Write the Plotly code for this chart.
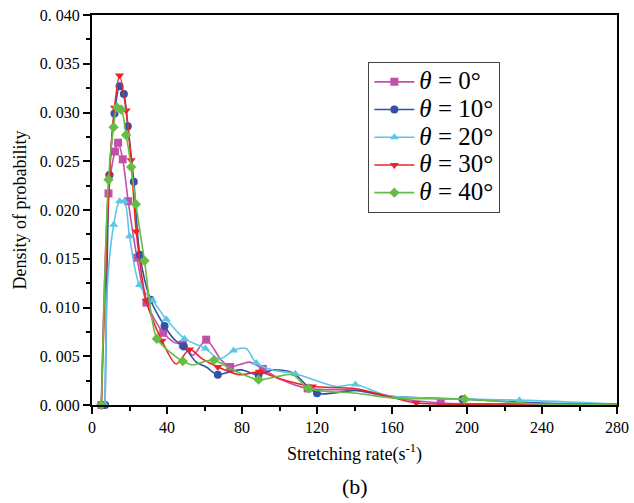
import plotly.graph_objects as go

# Probability density of the stretching rate for five inclination angles.
# Each curve is a smoothed line through all samples; markers sit on a subset.

ANGLES = ["0", "10", "20", "30", "40"]

X_0 = [5, 8.8, 12.2, 13.9, 16.4, 19.3, 24.0, 29.0, 38.0, 44.0, 48.4, 53.8, 60.9, 68.9,
       73.7, 84.0, 91.1, 100, 115, 141, 162, 186, 230, 280]
Y_0 = [0, 0.0217, 0.0260, 0.0269, 0.0252, 0.0209, 0.0151, 0.0105, 0.0074, 0.0064, 0.0062,
       0.0051, 0.0067, 0.0046, 0.0039, 0.0044, 0.0037, 0.0027, 0.0017, 0.0015, 0.0007,
       0.0002, 0.0001, 0.0001]
MARK_0 = [0, 1, 2, 3, 4, 5, 6, 7, 8, 10, 12, 14, 16, 18, 21]

X_10 = [7, 9.3, 12, 14.7, 17, 19.1, 22.3, 25.5, 31.2, 38.7, 44, 49, 55.6, 60.9, 67.1, 73.3,
        79.6, 88.8, 96.4, 107, 120, 141, 158.7, 197.6, 240, 280]
Y_10 = [0, 0.0236, 0.0299, 0.0327, 0.0319, 0.0286, 0.0229, 0.0154, 0.0108, 0.0081, 0.0067,
        0.0060, 0.0044, 0.0039, 0.0031, 0.0034, 0.0036, 0.0031, 0.0036, 0.0033, 0.0012,
        0.0015, 0.0009, 0.0006, 0.0002, 0.0001]
MARK_10 = [0, 1, 2, 3, 4, 5, 6, 7, 8, 9, 11, 14, 17, 20, 23]

X_20 = [7, 8.4, 11.6, 14.7, 17.3, 20, 25.3, 32.4, 39.6, 49.3, 60.5, 68, 75.5, 82.2, 87.6,
        96.4, 108.5, 130, 140.5, 157, 180, 228, 280]
Y_20 = [0, 0.0128, 0.0185, 0.0209, 0.0209, 0.0173, 0.0123, 0.0107, 0.0088, 0.0068, 0.0058,
        0.0047, 0.0056, 0.0058, 0.0043, 0.0036, 0.0032, 0.0019, 0.0021, 0.0010, 0.0007,
        0.0005, 0.0001]
MARK_20 = [0, 2, 3, 4, 5, 6, 7, 8, 9, 10, 12, 14, 16, 18, 21]

X_30 = [5, 9.3, 12, 14.7, 18.2, 20.9, 23.6, 29, 37.3, 44.9, 52, 59, 67.1, 78.7, 89.3, 100,
        117.5, 140, 160, 173, 220, 280]
Y_30 = [0, 0.0235, 0.0305, 0.0338, 0.0302, 0.0251, 0.0178, 0.0107, 0.0066, 0.0042, 0.0057,
        0.0047, 0.0039, 0.0031, 0.0034, 0.0027, 0.0019, 0.0017, 0.0008, 0.0002, 0.0001,
        0.0001]
MARK_30 = [0, 1, 2, 3, 4, 5, 6, 7, 8, 10, 12, 14, 16, 19]

X_40 = [5, 8.8, 11.5, 13.4, 15.6, 18.2, 20.9, 23.4, 28, 34.6, 43.1, 48.4, 53.8, 59.1, 65,
        75.1, 88.8, 98.2, 107, 115.5, 141, 162, 198.7, 240, 280]
Y_40 = [0, 0.0231, 0.0285, 0.0305, 0.0303, 0.0277, 0.0244, 0.0206, 0.0148, 0.0068, 0.0052,
        0.0045, 0.0041, 0.0044, 0.0046, 0.0036, 0.0026, 0.0029, 0.0031, 0.0017, 0.0012,
        0.0007, 0.0006, 0.0001, 0.0001]
MARK_40 = [0, 1, 2, 3, 4, 5, 6, 7, 8, 9, 11, 14, 16, 19, 22]

X_TICKS = [0, 40, 80, 120, 160, 200, 240, 280]
Y_TICKS = [0, 0.005, 0.010, 0.015, 0.020, 0.025, 0.030, 0.035, 0.040]
Y_TICK_TEXT = ["0.\u00a0000", "0.\u00a0005", "0.\u00a0010", "0.\u00a0015", "0.\u00a0020",
               "0.\u00a0025", "0.\u00a0030", "0.\u00a0035", "0.\u00a0040"]

series = [
    (X_0, Y_0, MARK_0, "#C44FAB", "square"),
    (X_10, Y_10, MARK_10, "#3352A6", "circle"),
    (X_20, Y_20, MARK_20, "#5CC7E3", "triangle-up"),
    (X_30, Y_30, MARK_30, "#EE2424", "triangle-down"),
    (X_40, Y_40, MARK_40, "#66BD43", "diamond"),
]

SERIF = "Liberation Serif"

fig = go.Figure()
for angle, (xs, ys, marks, color, symbol) in zip(ANGLES, series):
    name = f'<span style="font-size:25px"><i>θ</i> = {angle}°</span>'
    fig.add_trace(go.Scatter(
        x=xs, y=ys, mode="lines", line=dict(color=color, width=1.6, shape="spline", smoothing=0.8),
        showlegend=False, hoverinfo="skip"))
    fig.add_trace(go.Scatter(
        x=[xs[i] for i in marks], y=[ys[i] for i in marks], mode="markers",
        marker=dict(color=color, symbol=symbol, size=8), cliponaxis=False,
        showlegend=False, name=name))
    # legend entry showing both line and symbol
    fig.add_trace(go.Scatter(
        x=[None], y=[None], mode="lines+markers", name=name,
        line=dict(color=color, width=1.6),
        marker=dict(color=color, symbol=symbol, size=8)))

axis_common = dict(
    showline=True, linecolor="black", linewidth=2, mirror=True,
    ticks="outside", ticklen=7, tickwidth=1.5, tickcolor="black",
    showgrid=False, zeroline=False, automargin=False,
    tickfont=dict(family=SERIF, size=16, color="black"),
)

fig.update_xaxes(
    range=[0, 280], tickvals=X_TICKS,
    minor=dict(ticks="outside", ticklen=4, tickwidth=1.5, dtick=20, tick0=0, tickcolor="black"),
    title=dict(text="Stretching rate(s<sup>-1</sup>)", font=dict(family=SERIF, size=18, color="black"),
               standoff=12),
    **axis_common)
fig.update_yaxes(
    range=[0, 0.040], tickvals=Y_TICKS, ticktext=Y_TICK_TEXT,
    minor=dict(ticks="outside", ticklen=4, tickwidth=1.5, dtick=0.0025, tick0=0, tickcolor="black"),
    title=dict(text="Density of probability", font=dict(family=SERIF, size=18, color="black"),
               standoff=8),
    **axis_common)

fig.add_annotation(text="(b)", xref="paper", yref="paper", x=0.5, y=-0.21,
                   xanchor="center", yanchor="middle", showarrow=False,
                   font=dict(family=SERIF, size=22, color="black"))

fig.update_layout(
    width=634, height=503,
    margin=dict(l=92, r=17, t=15, b=98),
    paper_bgcolor="white", plot_bgcolor="white",
    legend=dict(x=0.526, y=0.88, xanchor="left", yanchor="top",
                bordercolor="#444444", borderwidth=1.2, bgcolor="white",
                font=dict(family=SERIF, size=19, color="black"),
                tracegroupgap=0, itemwidth=40),
)

fig.write_html("out.html")
